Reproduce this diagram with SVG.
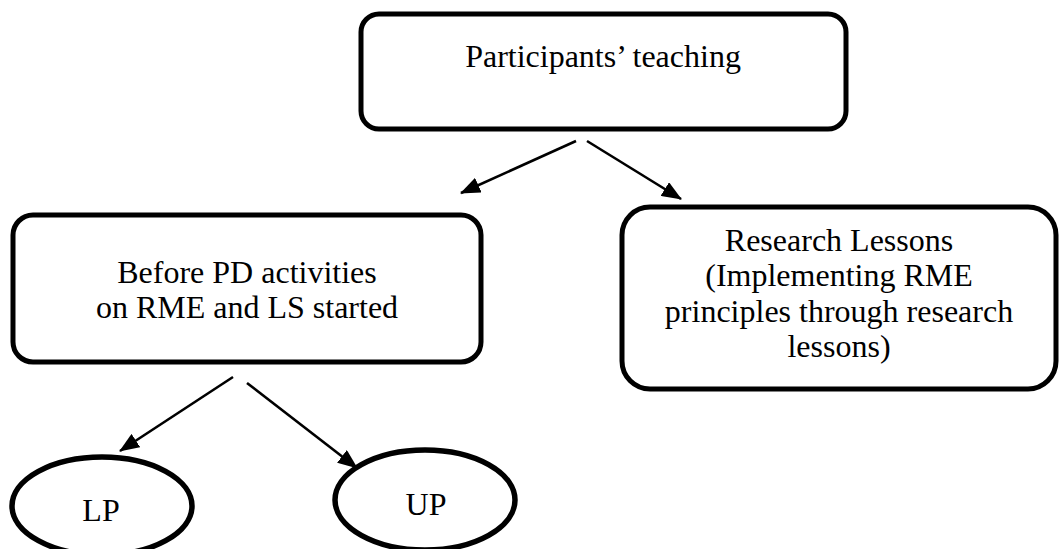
<svg xmlns="http://www.w3.org/2000/svg" width="1059" height="549" viewBox="0 0 1059 549">
  <style>
    .box { fill: #ffffff; stroke: #000000; stroke-width: 5; }
    .oval { fill: #ffffff; stroke: #000000; stroke-width: 5.5; }
    .lbl { font-family: "Liberation Serif", "Times New Roman", serif; font-size: 32px; fill: #000000; text-anchor: middle; }
    .edge { stroke: #000000; stroke-width: 2.6; fill: none; marker-end: url(#head); }
  </style>
  <defs>
    <!-- solid triangular arrowhead, sized in user units -->
    <marker id="head" viewBox="0 0 20 16" refX="19" refY="8" markerUnits="userSpaceOnUse" markerWidth="20" markerHeight="16" preserveAspectRatio="none" orient="auto">
      <path d="M0,0 L20,8 L0,16 z" fill="#000000"/>
    </marker>
  </defs>
  <rect width="1059" height="549" fill="#ffffff"/>

  <g id="node-teaching">
    <rect class="box" x="361" y="14" width="485" height="115" rx="18" ry="18"/>
    <text class="lbl" x="603" y="67">Participants’ teaching</text>
  </g>

  <g id="node-before">
    <rect class="box" x="13" y="215" width="468" height="147" rx="20" ry="20"/>
    <text class="lbl" x="247" y="283">Before PD activities</text>
    <text class="lbl" x="247" y="318">on RME and LS started</text>
  </g>

  <g id="node-research">
    <rect class="box" x="622" y="207" width="434" height="182" rx="28" ry="28"/>
    <text class="lbl" x="839" y="251">Research Lessons</text>
    <text class="lbl" x="839" y="286">(Implementing RME</text>
    <text class="lbl" x="839" y="322">principles through research</text>
    <text class="lbl" x="839" y="357">lessons)</text>
  </g>

  <g id="node-lp">
    <ellipse class="oval" cx="102" cy="506" rx="90" ry="49"/>
    <text class="lbl" x="101" y="521">LP</text>
  </g>

  <g id="node-up">
    <ellipse class="oval" cx="425" cy="500" rx="90" ry="50"/>
    <text class="lbl" x="426" y="515">UP</text>
  </g>

  <g id="connectors">
    <line class="edge" x1="576" y1="141" x2="461" y2="193"/>
    <line class="edge" x1="587" y1="141" x2="681" y2="199"/>
    <line class="edge" x1="233" y1="377" x2="120" y2="451"/>
    <line class="edge" x1="247" y1="383" x2="357" y2="468"/>
  </g>
</svg>
